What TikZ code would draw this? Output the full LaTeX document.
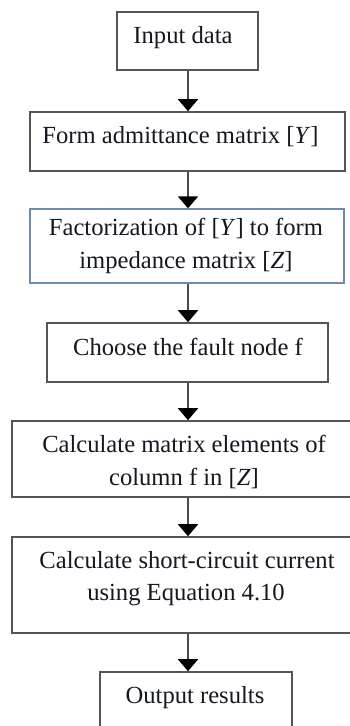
\documentclass[tikz,border=0pt]{standalone}
\usepackage{fontspec}
\setmainfont{Liberation Serif}
\usetikzlibrary{arrows.meta}
\definecolor{boxline}{HTML}{555555}
\definecolor{boxblue}{HTML}{6F8BAE}
\definecolor{txt}{HTML}{141820}
\begin{document}
\begin{tikzpicture}[x=1pt,y=-1pt,
  box/.style={draw=boxline,line width=1.6pt,rectangle,inner sep=0pt},
  lbl/.style={anchor=base,inner sep=0pt,text=txt,font=\fontsize{24.6}{33}\selectfont},
  flow/.style={draw=boxline!90!black,line width=2pt,-{Triangle[width=20pt,length=12pt,color=black]}}]
\useasboundingbox (0,0) rectangle (350,726);
\fill[white] (0,0) rectangle (350,726);
\clip (0,0) rectangle (350,726);
\coordinate (ax) at (188,0);
% boxes
\node[box,minimum width=141pt,minimum height=58pt] (b1) at (187.5,41) {};
\node[box,minimum width=315pt,minimum height=59pt] (b2) at (187.5,141.5) {};
\node[box,draw=boxblue,line width=1.3pt,minimum width=314pt,minimum height=74pt] (b3) at (187,246) {};
\node[box,minimum width=281pt,minimum height=59pt] (b4) at (187.5,352.5) {};
\node[box,minimum width=345pt,minimum height=76pt] (b5) at (184.5,459) {};
\node[box,minimum width=345pt,minimum height=96pt] (b6) at (184.5,585) {};
\node[box,minimum width=192pt,minimum height=80pt] (b7) at (196,712) {};
% texts
\node[lbl] (t1) at (183,43) {Input data};
\node[lbl] (t2) at (180.5,143) {Form admittance matrix [\textit{Y}]};
\node[lbl] (t3a) at (186,235) {Factorization of [\textit{Y}] to form};
\node[lbl] (t3b) at (186,268) {impedance matrix [\textit{Z}]};
\node[lbl] (t4) at (188,355) {Choose the fault node f};
\node[lbl] (t5a) at (184,452) {Calculate matrix elements of};
\node[lbl] (t5b) at (184,485) {column f in [\textit{Z}]};
\node[lbl] (t6a) at (187,568) {Calculate short-circuit current};
\node[lbl] (t6b) at (186,600) {using Equation 4.10};
\node[lbl] (t7) at (195,703) {Output results};
% connectors
\draw[flow] (b1.south -| ax) -- (b2.north -| ax);
\draw[flow] (b2.south -| ax) -- (b3.north -| ax);
\draw[flow] (b3.south -| ax) -- (b4.north -| ax);
\draw[flow] (b4.south -| ax) -- (b5.north -| ax);
\draw[flow] (b5.south -| ax) -- (b6.north -| ax);
\draw[flow] (b6.south -| ax) -- (b7.north -| ax);
\end{tikzpicture}
\end{document}
